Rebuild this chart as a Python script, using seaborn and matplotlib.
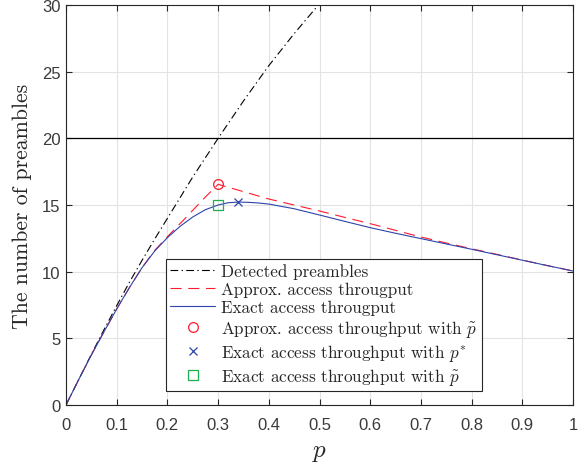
import numpy as np
import pandas as pd
import matplotlib
matplotlib.use("Agg")
import matplotlib.pyplot as plt
import seaborn as sns

sns.set_theme(style="whitegrid")
plt.rcParams['font.family'] = ['Liberation Sans', 'DejaVu Sans']
plt.rcParams['mathtext.fontset'] = 'cm'
plt.rcParams['axes.unicode_minus'] = False

# ---------- data ----------
p_det = [0, 0.025, 0.05, 0.075, 0.1, 0.125, 0.15, 0.175, 0.2, 0.25, 0.3,
         0.35, 0.4, 0.45, 0.5, 0.55]
detected = [0, 1.9, 3.8, 5.65, 7.45, 9.2, 10.85, 12.45, 14.0, 17.1, 20.0,
            22.8, 25.45, 27.85, 30.1, 32.2]

p_apx = [0, 0.025, 0.05, 0.075, 0.1, 0.125, 0.15, 0.175, 0.2, 0.225, 0.25,
         0.275, 0.3, 0.35, 0.4, 0.45, 0.5, 0.55, 0.6, 0.65, 0.7, 0.75, 0.8,
         0.85, 0.9, 0.95, 1.0]
approx = [0, 1.9, 3.75, 5.5, 7.2, 8.8, 10.3, 11.6, 12.62, 13.6, 14.6,
          15.6, 16.55, 16.0, 15.45, 15.0, 14.55, 14.07, 13.6, 13.1, 12.6, 12.15, 11.72,
          11.3, 10.87, 10.45, 10.05]

p_ex = [0, 0.025, 0.05, 0.075, 0.1, 0.125, 0.15, 0.175, 0.2, 0.225, 0.25,
        0.275, 0.3, 0.32, 0.34, 0.36, 0.38, 0.4, 0.45, 0.5, 0.55, 0.6, 0.65,
        0.7, 0.75, 0.8, 0.85, 0.9, 0.95, 1.0]
exact = [0, 1.9, 3.75, 5.5, 7.2, 8.8, 10.3, 11.55, 12.55, 13.4, 14.1,
         14.65, 15.0, 15.17, 15.22, 15.2, 15.15, 15.07, 14.72, 14.25, 13.77, 13.3, 12.88,
         12.48, 12.08, 11.68, 11.27, 10.86, 10.45, 10.05]

threshold = 20
p_tilde, approx_at_tilde, exact_at_tilde = 0.3, 16.55, 15.02
p_star, exact_at_star = 0.34, 15.25

df_det = pd.DataFrame({'p': p_det, 'n': detected})
df_apx = pd.DataFrame({'p': p_apx, 'n': approx})
df_ex = pd.DataFrame({'p': p_ex, 'n': exact})

RED = '#ff1a2e'
BLUE = '#2d44a8'
GREEN = '#1fae4f'

fig = plt.figure(figsize=(5.88, 4.64), dpi=100)
ax = fig.add_axes([66/588, 58/464, 507/588, 400/464])

sns.lineplot(data=df_det, x='p', y='n', ax=ax, color='black', lw=0.8,
             linestyle=(0, (7, 3, 1.2, 3)), label='Detected preambles')
sns.lineplot(data=df_apx, x='p', y='n', ax=ax, color=RED, lw=0.8,
             linestyle=(0, (10, 6)), label='Approx. access througput')
sns.lineplot(data=df_ex, x='p', y='n', ax=ax, color=BLUE, lw=0.8,
             label='Exact access througput')
ax.axhline(threshold, color='black', lw=0.9)

ax.plot([p_tilde], [approx_at_tilde], 'o', mfc='none', mec=RED, ms=7, mew=0.9,
        ls='none', label=r'Approx. access throughput with $\tilde{p}$')
ax.plot([p_star], [exact_at_star], 'x', color=BLUE, ms=6, mew=0.9,
        ls='none', label=r'Exact access throughput with $p^{*}$')
ax.plot([p_tilde], [exact_at_tilde], 's', mfc='none', mec=GREEN, ms=6.5, mew=0.9,
        ls='none', label=r'Exact access throughput with $\tilde{p}$')

ax.set_xlim(0, 1)
ax.set_ylim(0, 30)
ax.set_xticks(np.arange(0, 1.01, 0.1))
ax.set_xticklabels(['0'] + [f'{v:.1f}' for v in np.arange(0.1, 0.95, 0.1)] + ['1'])
ax.set_yticks(np.arange(0, 31, 5))

ax.grid(True, color='#e3e3e3', lw=0.8)
for s in ax.spines.values():
    s.set_color('#262626')
    s.set_linewidth(0.8)
ax.tick_params(axis='both', direction='in', length=4, width=0.8, color='#262626',
               labelsize=12, labelcolor='#3a3a3a', top=True, right=True,
               bottom=True, left=True)
ax.tick_params(axis='x', pad=9)
ax.tick_params(axis='y', pad=4)

ax.set_xlabel(r'$p$', fontsize=18, labelpad=5)
ax.set_ylabel('The number of preambles', fontsize=15.7, family='cmr10', labelpad=7)

leg = ax.legend(loc='lower left', bbox_to_anchor=(0.197, 0.035), borderaxespad=0,
                fancybox=False, framealpha=1, edgecolor='#262626',
                prop={'family': 'cmr10', 'size': 12.3}, handlelength=2.65,
                handletextpad=0.35, labelspacing=0.17, borderpad=0.25)
leg.get_frame().set_linewidth(0.8)

fig.savefig('out.png', dpi=100)
